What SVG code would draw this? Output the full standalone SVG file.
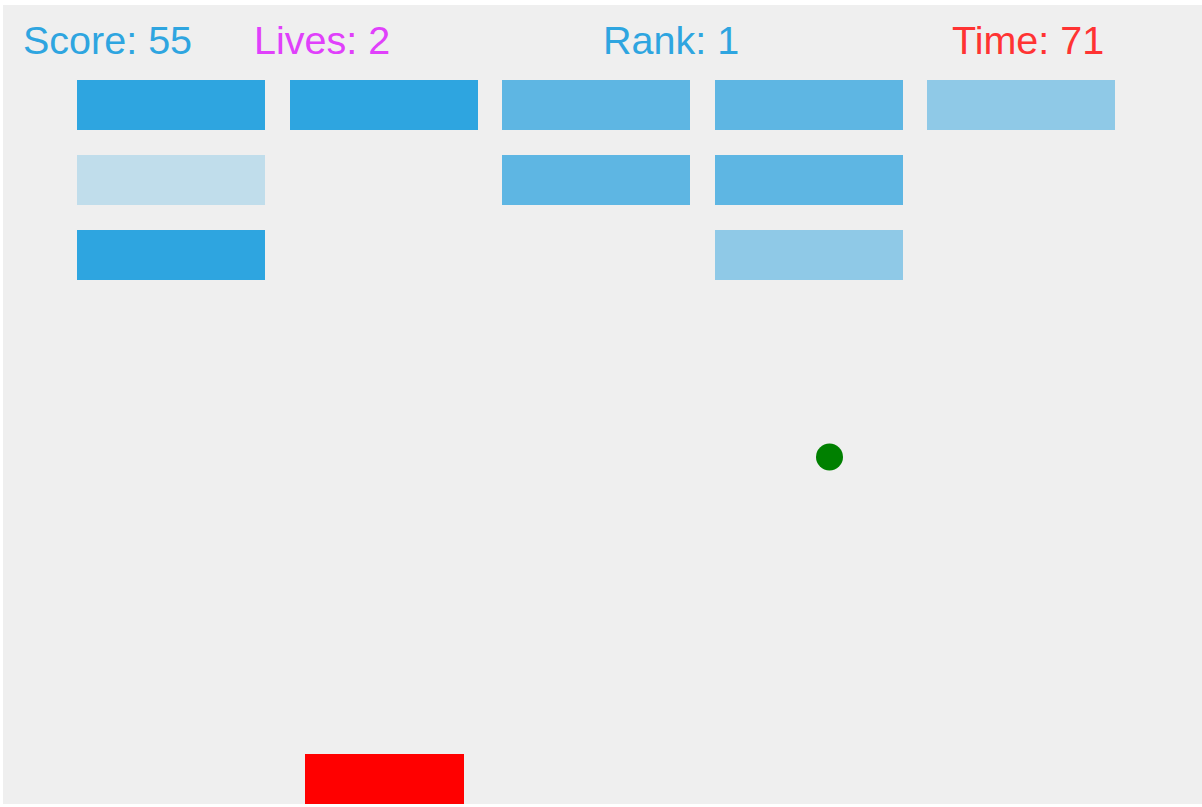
<svg xmlns="http://www.w3.org/2000/svg" width="1202" height="807" viewBox="0 0 1202 807">
<style>
.hud{font-family:"Liberation Sans",Arial,sans-serif;font-size:39.5px}
.b{stroke:none}
.c1{fill:#2ea5e0}
.c2{fill:#5eb6e3}
.c3{fill:#8fc9e7}
.c4{fill:#c0ddeb}
</style>
<rect x="0" y="0" width="1202" height="807" fill="#ffffff"/>
<rect id="board" x="3" y="5" width="1199" height="799" fill="#efefef"/>
<g id="hud">
<text class="hud" x="23" y="54" fill="#2ea5e0">Score: 55</text>
<text class="hud" x="254" y="54" fill="#e040fb">Lives: 2</text>
<text class="hud" x="603" y="54" fill="#2ea5e0">Rank: 1</text>
<text class="hud" x="952" y="54" fill="#ff3333">Time: 71</text>
</g>
<g id="bricks">
<rect class="b c1" x="77" y="80" width="188" height="50"/>
<rect class="b c1" x="290" y="80" width="188" height="50"/>
<rect class="b c2" x="502" y="80" width="188" height="50"/>
<rect class="b c2" x="715" y="80" width="188" height="50"/>
<rect class="b c3" x="927" y="80" width="188" height="50"/>
<rect class="b c4" x="77" y="155" width="188" height="50"/>
<rect class="b c2" x="502" y="155" width="188" height="50"/>
<rect class="b c2" x="715" y="155" width="188" height="50"/>
<rect class="b c1" x="77" y="230" width="188" height="50"/>
<rect class="b c3" x="715" y="230" width="188" height="50"/>
</g>
<circle id="ball" cx="829.5" cy="457" r="13.5" fill="#008000"/>
<rect id="paddle" x="305" y="754" width="159" height="50" fill="#ff0000"/>
</svg>
